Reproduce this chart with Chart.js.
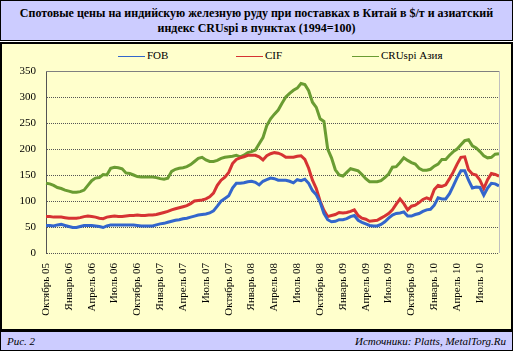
<!DOCTYPE html>
<html>
<head>
<meta charset="utf-8">
<script src="https://cdn.jsdelivr.net/npm/chart.js@4.4.1/dist/chart.umd.min.js"></script>
<style>
body{margin:0;width:513px;height:351px;position:relative;overflow:hidden;background:#fff;font-family:"Liberation Serif","Times New Roman",serif;color:#000;}
#titulo{position:absolute;left:0;top:0;width:513px;height:41px;box-sizing:border-box;border:1px solid #000;background:#CCCCFF;text-align:center;font-weight:bold;font-size:12px;line-height:15px;padding-top:5px;}
#panel{position:absolute;left:0;top:42px;width:513px;height:289px;box-sizing:border-box;border:2px solid #000;background:#FFFFCC;}
#caja{position:absolute;left:0;top:43px;width:513px;height:287px;}
#leyenda{position:absolute;left:0;top:48px;width:513px;height:14px;font-size:11px;}
#leyenda span.item{position:absolute;top:0;white-space:nowrap;line-height:14px;}
#leyenda span.linea{display:inline-block;width:27px;height:1px;vertical-align:middle;margin-right:2px;}
#pie{position:absolute;left:0;top:331px;width:513px;height:20px;box-sizing:border-box;border:1px solid #000;background:#CCCCFF;font-style:italic;font-size:11px;line-height:18px;}
#pie .izq{position:absolute;left:6px;}
#pie .der{position:absolute;right:6px;}
</style>
</head>
<body>
<div id="titulo">Спотовые цены на индийскую железную руду при поставках в Китай в $/т и азиатский<br>индекс CRUspi в пунктах (1994=100)</div>
<div id="panel"></div>
<div id="leyenda"></div>
<div id="caja"><canvas id="grafico"></canvas></div>
<div id="pie"><span class="izq">Рис. 2</span><span class="der">Источники: Platts, MetalTorg.Ru</span></div>
<script>

// ================================
// ДАННЫЕ (по полумесяцам, окт. 05 - сент. 10)
// ================================

const kvartaly = [
"Октябрь 05","Январь 06","Апрель 06","Июль 06",
"Октябрь 06","Январь 07","Апрель 07","Июль 07",
"Октябрь 07","Январь 08","Апрель 08","Июль 08",
"Октябрь 08","Январь 09","Апрель 09","Июль 09",
"Октябрь 09","Январь 10","Апрель 10","Июль 10"
];

const nombres = ["FOB","CIF","CRUspi Азия"];

const colores = ["#3366CC","#D63333","#6A9C32"];

const fob = [
53,53,52,54,55,53,51,49,49,51,53,53,53,52,51,49,52,54,54,54,
54,54,54,54,53,52,52,52,52,54,56,57,59,61,63,64,66,67,69,71,
73,74,75,77,81,90,100,105,110,125,134,134,135,137,138,136,131,138,141,144,
143,140,140,140,138,135,141,139,142,134,120,112,98,76,64,60,61,64,64,66,
70,72,63,59,56,53,52,52,55,60,67,73,76,77,79,71,71,74,76,80,
83,84,92,106,104,104,114,129,145,158,158,140,125,127,126,111,125,134,133,129
];

const cif = [
70,70,69,69,69,68,67,67,67,68,70,71,70,69,67,66,69,70,71,70,
70,71,72,72,73,72,72,73,73,74,76,78,80,83,85,87,89,91,95,100,
101,102,104,108,115,130,140,146,155,172,180,183,185,188,188,188,185,179,187,191,
193,192,189,184,184,184,186,187,180,163,140,124,100,82,70,72,74,78,77,78,
80,83,72,67,65,61,62,63,67,71,76,83,94,104,95,83,90,92,97,103,
106,103,122,130,128,131,143,156,171,184,185,160,152,150,140,124,141,153,151,148
];

const cruspi = [
134,133,130,126,124,121,119,117,117,118,121,130,139,144,145,151,150,163,165,164,
162,154,153,150,147,146,146,146,146,145,143,142,144,157,161,163,164,166,170,176,
182,184,179,176,176,178,182,184,185,186,188,185,188,193,195,198,210,222,245,258,
267,275,288,300,307,313,317,326,324,312,290,280,258,253,200,183,160,150,148,155,
162,160,158,151,143,137,137,137,139,145,152,165,166,174,183,178,174,171,163,159,
159,161,167,171,180,180,188,195,200,208,216,218,206,202,195,187,183,184,190,191
];

// подписи только в начале каждого квартала
const etiquetas = fob.map((v,i)=> i % 6 === 0 ? kvartaly[i/6] : "");

// ================================
// ЛЕГЕНДА
// ================================

const posLeyenda = [118,236,352];

nombres.forEach((n,i)=>{
    const s = document.createElement("span");
    s.className = "item";
    s.style.left = posLeyenda[i] + "px";
    s.innerHTML = '<span class="linea" style="background:' + colores[i] + '"></span>' + n;
    document.getElementById("leyenda").appendChild(s);
});

// ================================
// ГРАФИК
// ================================

const marco = {
    id:"marco",
    afterDraw(chart){
        const a = chart.chartArea;
        const c = chart.ctx;
        c.save();
        c.lineWidth = 1;
        c.strokeStyle = "#808080";
        c.beginPath();
        c.moveTo(a.left, Math.round(a.top) + 0.5);
        c.lineTo(a.right, Math.round(a.top) + 0.5);
        c.stroke();
        c.strokeStyle = "#C0C0C0";
        c.beginPath();
        c.moveTo(Math.round(a.right) + 0.5, a.top);
        c.lineTo(Math.round(a.right) + 0.5, a.bottom);
        c.stroke();
        c.restore();
    }
};

const fuente = {family:'"Liberation Serif", "Times New Roman", serif', size:11};

const series = [fob, cif, cruspi];

const grafico = new Chart(document.getElementById("grafico"), {

    type:"line",

    data:{
        labels: etiquetas,
        datasets: series.map((d,i)=>({
            label: nombres[i],
            data: d,
            borderColor: colores[i],
            backgroundColor: colores[i],
            borderWidth: 3,
            pointRadius: 0,
            tension: 0
        }))
    },

    options:{
        responsive:true,
        maintainAspectRatio:false,
        animation:false,
        layout:{ padding:{ top:28, right:14, left:0, bottom:0 } },
        plugins:{
            legend:{ display:false },
            tooltip:{ enabled:false }
        },
        scales:{
            x:{
                grid:{ display:false, drawTicks:false },
                border:{ display:false },
                ticks:{
                    autoSkip:false,
                    maxRotation:90,
                    minRotation:90,
                    padding:10,
                    color:"#000",
                    font:fuente
                },
                afterFit(s){
                    s.height = 77;
                    s.paddingLeft = 0;
                    s.paddingRight = 0;
                }
            },
            y:{
                min:0,
                max:350,
                grid:{ color:"#555", drawTicks:false },
                border:{ display:true, color:"#555", dash:[1,1] },
                ticks:{
                    stepSize:50,
                    padding:10,
                    color:"#000",
                    font:fuente
                },
                afterFit(s){ s.width = 46; }
            }
        }
    },

    plugins:[marco]

});

</script>
</body>
</html>
